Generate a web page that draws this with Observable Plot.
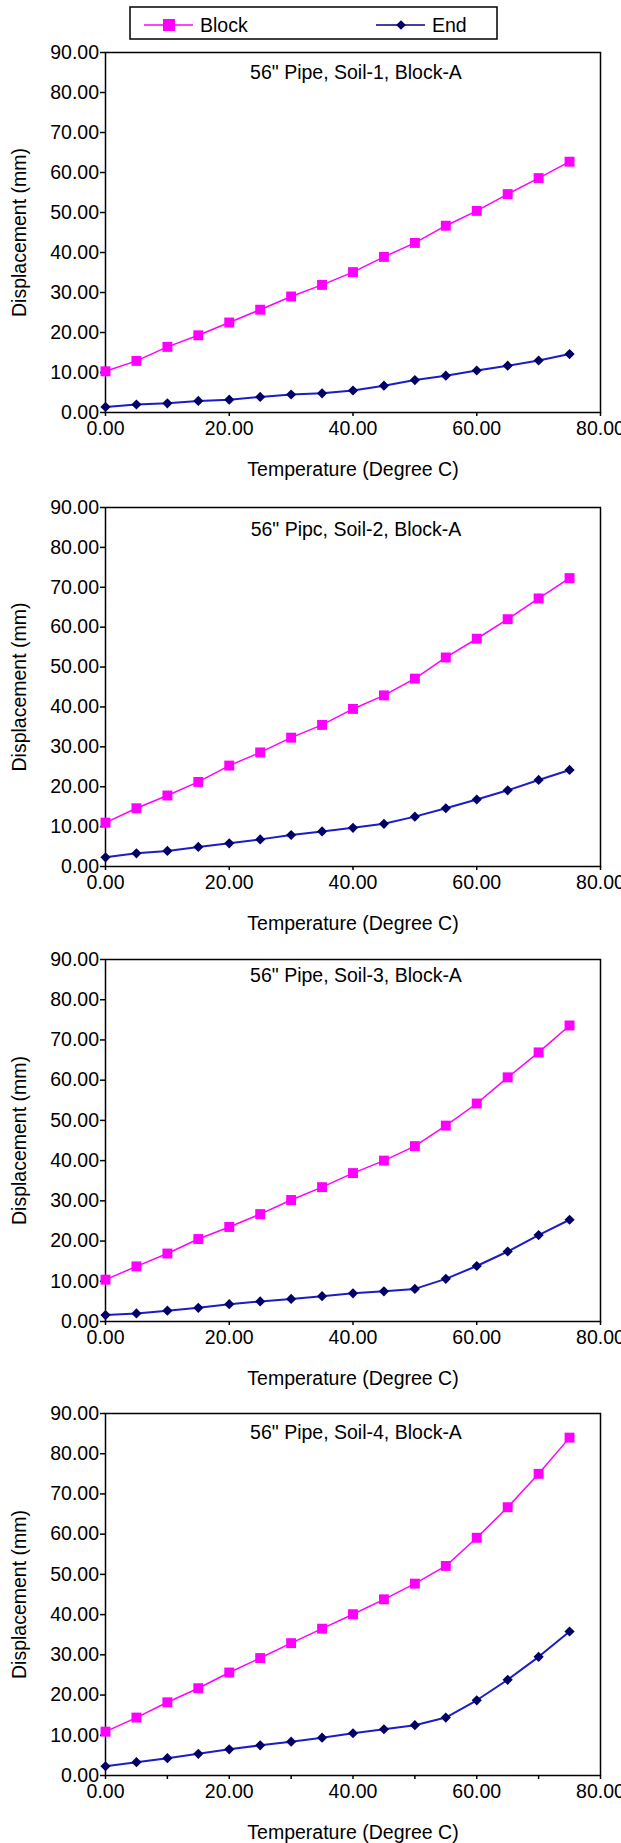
<!DOCTYPE html>
<html>
<head>
<meta charset="utf-8">
<script src="https://cdn.jsdelivr.net/npm/d3@7"></script>
<script src="https://cdn.jsdelivr.net/npm/@observablehq/plot@0.6"></script>
<style>
html, body { margin: 0; padding: 0; background: #fff; overflow: hidden; }
#root { position: relative; width: 621px; height: 1843px; font-family: "Liberation Sans", Arial, sans-serif; color: #000; }
.panel { position: absolute; left: 0; }
#legend { position: absolute; left: 129px; top: 6px; }
</style>
</head>
<body>
<div id="root"></div>
<script>
// ---- data ----
const temps = [0, 5, 10, 15, 20, 25, 30, 35, 40, 45, 50, 55, 60, 65, 70, 75];

const block1 = [10.3, 12.9, 16.4, 19.3, 22.5, 25.7, 29.0, 31.9, 35.1, 38.9, 42.4, 46.7, 50.4, 54.6, 58.6, 62.7];
const end1   = [1.4, 2.0, 2.3, 2.9, 3.2, 3.9, 4.5, 4.8, 5.5, 6.7, 8.1, 9.2, 10.5, 11.7, 13.0, 14.6];

const block2 = [11.0, 14.6, 17.8, 21.2, 25.3, 28.6, 32.3, 35.5, 39.5, 42.9, 47.1, 52.4, 57.1, 62.0, 67.2, 72.3];
const end2   = [2.3, 3.3, 3.9, 4.9, 5.8, 6.8, 7.9, 8.8, 9.7, 10.7, 12.5, 14.6, 16.8, 19.1, 21.7, 24.2];

const block3 = [10.4, 13.7, 16.9, 20.5, 23.5, 26.7, 30.2, 33.4, 36.9, 40.0, 43.6, 48.7, 54.2, 60.7, 66.9, 73.6];
const end3   = [1.6, 2.0, 2.7, 3.4, 4.3, 5.0, 5.6, 6.3, 7.0, 7.5, 8.1, 10.6, 13.8, 17.4, 21.5, 25.3];

const block4 = [10.9, 14.4, 18.2, 21.7, 25.6, 29.2, 32.9, 36.5, 40.1, 43.8, 47.7, 52.1, 59.1, 66.7, 75.0, 84.0];
const end4   = [2.3, 3.3, 4.3, 5.4, 6.5, 7.5, 8.4, 9.4, 10.5, 11.5, 12.5, 14.4, 18.7, 23.8, 29.5, 35.8];

const titles = [
  "56\" Pipe, Soil-1, Block-A",
  "56\" Pipc, Soil-2, Block-A",
  "56\" Pipe, Soil-3, Block-A",
  "56\" Pipe, Soil-4, Block-A"
];
const seriesNames = ["Block", "End"];
const xLabelTicks = [0, 20, 40, 60, 80];
const xMinorTicks = [10, 30, 50, 70];
const yTicks = [0, 10, 20, 30, 40, 50, 60, 70, 80, 90];
const xTitle = "Temperature (Degree C)";
const yTitle = "Displacement (mm)";

// ---- styling / layout ----
const FONT = "\"Liberation Sans\", Arial, sans-serif";
const BLOCK_COLOR = "#ff00ff";
const END_LINE = "#1c1cc8";
const END_MARK = "#000066";
const fmt = d3.format(".2f");

const panels = [
  {title: titles[0], block: block1, end: end1, minor: false},
  {title: titles[1], block: block2, end: end2, minor: false},
  {title: titles[2], block: block3, end: end3, minor: false},
  {title: titles[3], block: block4, end: end4, minor: true}
];
const layout = [
  {top: 52, h: 360, titleDy: 20},
  {top: 507, h: 359, titleDy: 22},
  {top: 959, h: 362, titleDy: 16},
  {top: 1413, h: 362, titleDy: 19}
];
const MT = 10, MB = 55;

const root = document.getElementById("root");

// legend (HTML/SVG, above the charts)
const lg = d3.create("svg").attr("id", "legend").attr("width", 370).attr("height", 36)
  .style("font-family", FONT).style("font-size", "19.5px");
lg.append("rect").attr("x", 1).attr("y", 1).attr("width", 367).attr("height", 32)
  .attr("fill", "#fff").attr("stroke", "#000").attr("stroke-width", 1.5);
const items = [
  {name: seriesNames[0], lx: 15, color: BLOCK_COLOR, sym: d3.symbolSquare, size: 144, mcolor: BLOCK_COLOR},
  {name: seriesNames[1], lx: 247, color: "#000080", sym: d3.symbolDiamond2, size: 60, mcolor: END_MARK}
];
for (const it of items) {
  const g = lg.append("g");
  g.append("line").attr("x1", it.lx).attr("x2", it.lx + 49).attr("y1", 19).attr("y2", 19)
    .attr("stroke", it.color).attr("stroke-width", 1.5);
  g.append("path").attr("d", d3.symbol(it.sym, it.size)()).attr("transform", `translate(${it.lx + 25},19)`)
    .attr("fill", it.mcolor);
  g.append("text").attr("x", it.lx + 56).attr("y", 19).attr("dy", "0.35em").text(it.name);
}
root.appendChild(lg.node());

panels.forEach((p, i) => {
  const L = layout[i];
  const blockRows = temps.map((t, k) => ({t, v: p.block[k]}));
  const endRows = temps.map((t, k) => ({t, v: p.end[k]}));
  const chart = Plot.plot({
    width: 621,
    height: L.h + MT + MB,
    marginTop: MT,
    marginBottom: MB,
    marginLeft: 105,
    marginRight: 21,
    style: {fontFamily: FONT, fontSize: "19.5px", color: "#000", background: "transparent", overflow: "visible"},
    x: {domain: [0, 80]},
    y: {domain: [0, 90]},
    marks: [
      Plot.axisY({ticks: yTicks, tickFormat: fmt, tickSize: 5, tickPadding: 1.5, label: null, strokeWidth: 1.5}),
      Plot.axisX({ticks: xLabelTicks, tickFormat: fmt, tickSize: 4, tickPadding: 5, label: null, strokeWidth: 1.5}),
      p.minor ? Plot.axisX({ticks: xMinorTicks, tickFormat: () => "", tickSize: 4, label: null, strokeWidth: 1.5}) : null,
      Plot.frame({stroke: "#000", strokeWidth: 1.5}),
      Plot.line(blockRows, {x: "t", y: "v", stroke: BLOCK_COLOR, strokeWidth: 1.5}),
      Plot.dot(blockRows, {x: "t", y: "v", symbol: "square", r: 5.6, fill: BLOCK_COLOR, stroke: "none"}),
      Plot.line(endRows, {x: "t", y: "v", stroke: END_LINE, strokeWidth: 2}),
      Plot.dot(endRows, {x: "t", y: "v", symbol: "diamond2", r: 4.6, fill: END_MARK, stroke: "none"}),
      Plot.text([p.title], {text: d => d, frameAnchor: "top", lineAnchor: "middle", textAnchor: "middle", dy: L.titleDy, dx: 3, fill: "#000"}),
      Plot.text([yTitle], {text: d => d, frameAnchor: "left", lineAnchor: "middle", textAnchor: "middle", rotate: -90, dx: -86, fill: "#000"}),
      Plot.text([xTitle], {text: d => d, frameAnchor: "bottom", lineAnchor: "middle", textAnchor: "middle", dy: 57, fill: "#000"})
    ]
  });
  chart.classList.add("panel");
  chart.style.top = (L.top - MT) + "px";
  root.appendChild(chart);
});
</script>
</body>
</html>
